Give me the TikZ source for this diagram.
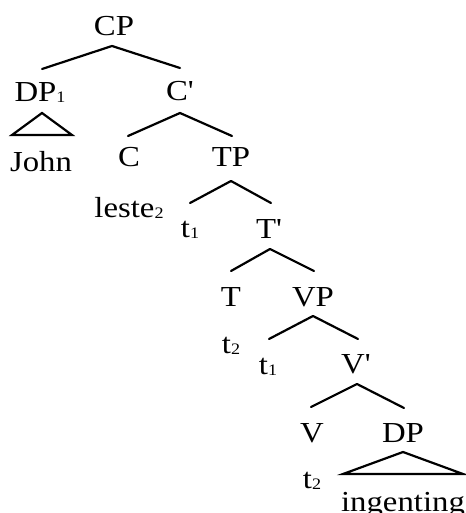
\documentclass[tikz,border=0pt]{standalone}
\usepackage{fontspec}
\setmainfont{Liberation Serif}[Ligatures=TeXOff,FakeStretch=1.13]
% small index sitting on the baseline
\newcommand\idx[1]{\raisebox{-1pt}{\fontsize{16}{16}\selectfont #1}}
\begin{document}
\begin{tikzpicture}[x=1pt,y=-1pt,
  lbl/.style={anchor=base,inner sep=0pt,font=\fontsize{29}{34}\selectfont},
  branch/.style={line width=2.2pt,line cap=round,line join=round},
  roof/.style={line width=2.2pt,line join=miter}]
\useasboundingbox (0,0) rectangle (465,513);

% category labels
\node[lbl] (cp)  at (114,36)  {CP};
\node[lbl] (dp1) at (40,102)  {DP\idx{1}};
\node[lbl] (cb)  at (180,101) {C'};
\node[lbl] (c)   at (129,166) {C};
\node[lbl] (tp)  at (231,166) {TP};
\node[lbl] (tb)  at (269,238) {T'};
\node[lbl] (t)   at (231,306) {T};
\node[lbl] (vp)  at (313,306) {VP};
\node[lbl] (vb)  at (356,373) {V'};
\node[lbl] (v)   at (312,442) {V};
\node[lbl] (dp)  at (403,442) {DP};

% terminals and traces
\node[lbl] (john)  at (41,171)  {John};
\node[lbl] (leste) at (129,217) {leste\idx{2}};
\node[lbl] (tra)   at (190,237) {t\idx{1}};
\node[lbl] (trb)   at (231,353) {t\idx{2}};
\node[lbl] (trc)   at (268,374) {t\idx{1}};
\node[lbl] (trd)   at (312,488) {t\idx{2}};
\node[lbl] (ing)   at (403,511) {ingenting};

% branch points
\coordinate (cpA) at (112,46);  \coordinate (cpL) at (42,69);   \coordinate (cpR) at (180,68);
\coordinate (cbA) at (180,113); \coordinate (cbL) at (128,136); \coordinate (cbR) at (232,136);
\coordinate (tpA) at (231,181); \coordinate (tpL) at (190,203); \coordinate (tpR) at (271,203);
\coordinate (tbA) at (270,249); \coordinate (tbL) at (231,271); \coordinate (tbR) at (314,271);
\coordinate (vpA) at (313,316); \coordinate (vpL) at (269,339); \coordinate (vpR) at (358,339);
\coordinate (vbA) at (357,384); \coordinate (vbL) at (311,407); \coordinate (vbR) at (404,408);

\draw[branch] (cpL) -- (cpA) -- (cpR);
\draw[branch] (cbL) -- (cbA) -- (cbR);
\draw[branch] (tpL) -- (tpA) -- (tpR);
\draw[branch] (tbL) -- (tbA) -- (tbR);
\draw[branch] (vpL) -- (vpA) -- (vpR);
\draw[branch] (vbL) -- (vbA) -- (vbR);

% roofs over unanalysed phrases
\coordinate (r1A) at (42,113);  \coordinate (r1L) at (12,135);  \coordinate (r1R) at (72,135);
\coordinate (r2A) at (403,452); \coordinate (r2L) at (343,474); \coordinate (r2R) at (463,474);
\draw[roof] (r1L) -- (r1A) -- (r1R) -- cycle;
\draw[roof] (r2L) -- (r2A) -- (r2R) -- cycle;
\end{tikzpicture}
\end{document}
